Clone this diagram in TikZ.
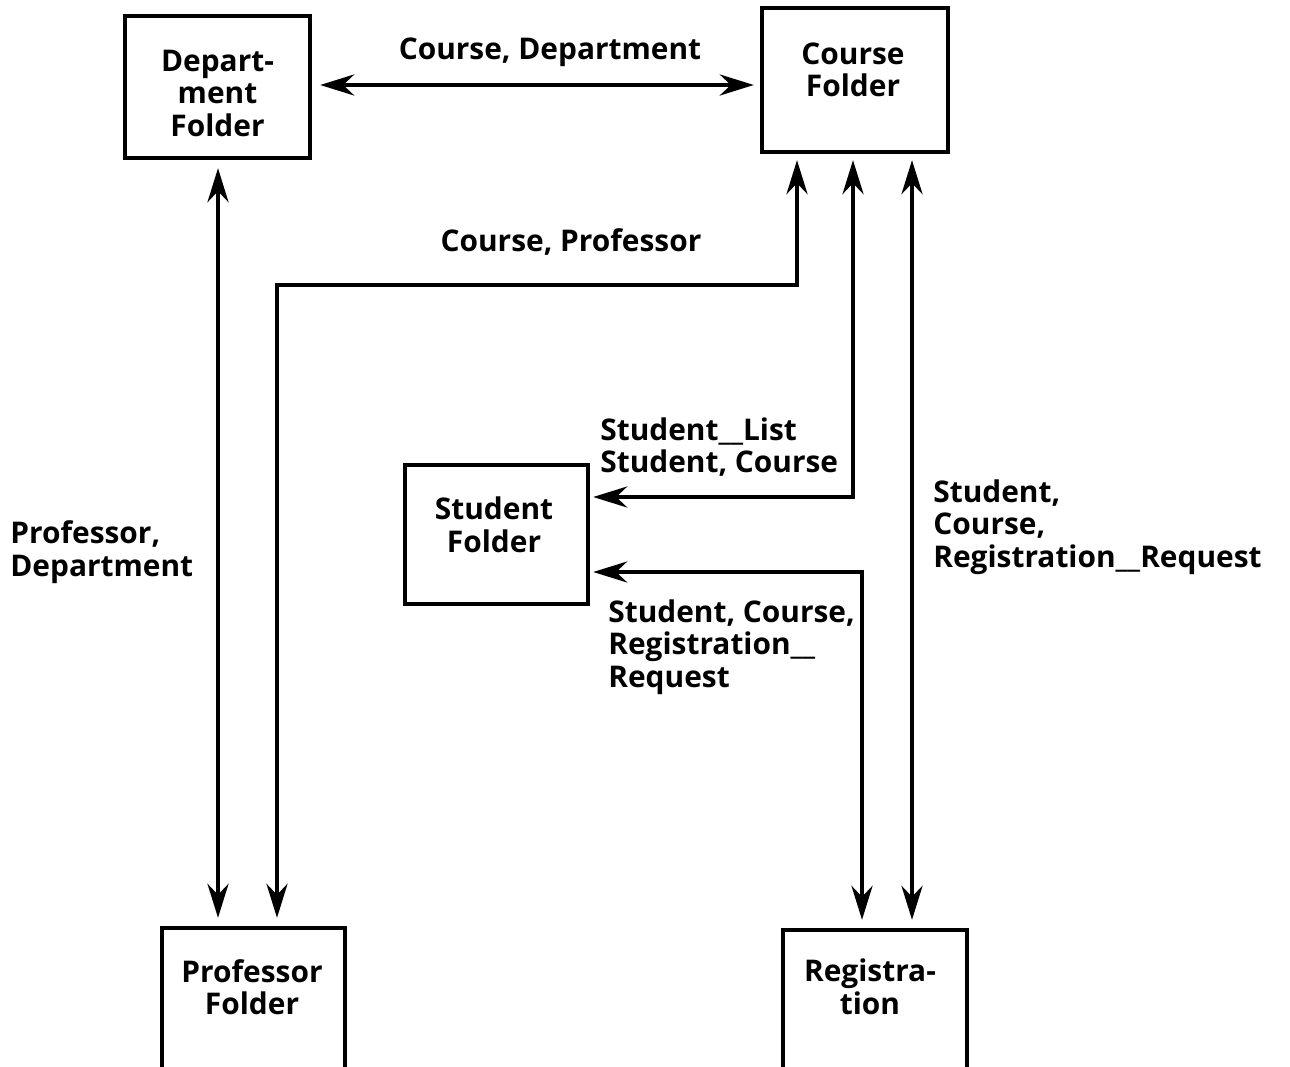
\documentclass[tikz,border=0pt]{standalone}
\usepackage{fontspec}
\setmainfont{Open Sans}
\usetikzlibrary{arrows.meta,calc}
\begin{document}
\begin{tikzpicture}[x=0.02cm,y=-0.02cm,
  box/.style={draw, line width=2.5pt, rectangle, inner sep=0pt},
  lbl/.style={font=\bfseries\fontsize{17}{18.5}\selectfont, inner sep=0pt, align=center},
  lblL/.style={lbl, align=left, anchor=west},
  tip/.tip={Stealth[length=0.68cm,width=0.42cm,inset=0.22cm]},
  arr/.style={line width=2.4pt, tip-tip}]
\clip (0,0) rectangle (1290,1067);

% folders
\node[box, minimum width=3.70cm, minimum height=2.84cm] (dept) at (217.5,87) {};
\node[box, minimum width=3.72cm, minimum height=2.88cm] (course) at (855,80) {};
\node[box, minimum width=3.66cm, minimum height=2.78cm] (student) at (496.5,534.5) {};
\node[box, minimum width=3.66cm, minimum height=3.60cm] (prof) at (253.5,1018) {};
\node[box, minimum width=3.68cm, minimum height=3.60cm] (reg) at (875,1020) {};

% folder titles
\node[lbl] (deptT) at ($(dept.center)+(0,6)$) {Depart-\\ment\\Folder};
\node[lbl] (courseT) at ($(course.center)+(-2,-10)$) {Course\\Folder};
\node[lbl] (studentT) at ($(student.center)+(-2.5,-9.5)$) {Student\\Folder};
\node[lbl] (profT) at ($(prof.center)+(-1.5,-31)$) {Professor\\Folder};
\node[lbl] (regT) at ($(reg.center)+(-5,-33)$) {Registra-\\tion};

% data flows
\draw[arr] ($(dept.east)+(8,-2)$) -- ($(dept.east -| course.west)+(-6,-2)$);
\draw[arr] ($(dept.south)+(0.5,8)$) -- ($(dept.south |- prof.north)+(0.5,-8)$);
\draw[arr] ($(prof.north)+(23.5,-8)$) -- ++(0,-633) -| ($(course.south)+(-58,6)$);
\draw[arr] ($(course.south)+(-2,6)$) |- ($(student.east)+(3,-37.5)$);
\draw[arr] ($(student.east)+(3,37.5)$) -| ($(reg.north)+(-13,-8)$);
\draw[arr] ($(course.south)+(57,6)$) -- ($(reg.north)+(37,-8)$);

% flow labels
\node[lbl] (cdL) at (550,52) {Course, Department};
\node[lbl] (cpL) at (571,242) {Course, Professor};
\node[lblL] (pdL) at (10,552) {Professor,\\Department};
\node[lblL] (slL) at (600,447) {Student\_\_List\\Student, Course};
\node[lblL] (srL) at (608,647) {Student, Course,\\Registration\_\_\\Request};
\node[lblL] (crL) at (933,527) {Student,\\Course,\\Registration\_\_Request};
\end{tikzpicture}
\end{document}
